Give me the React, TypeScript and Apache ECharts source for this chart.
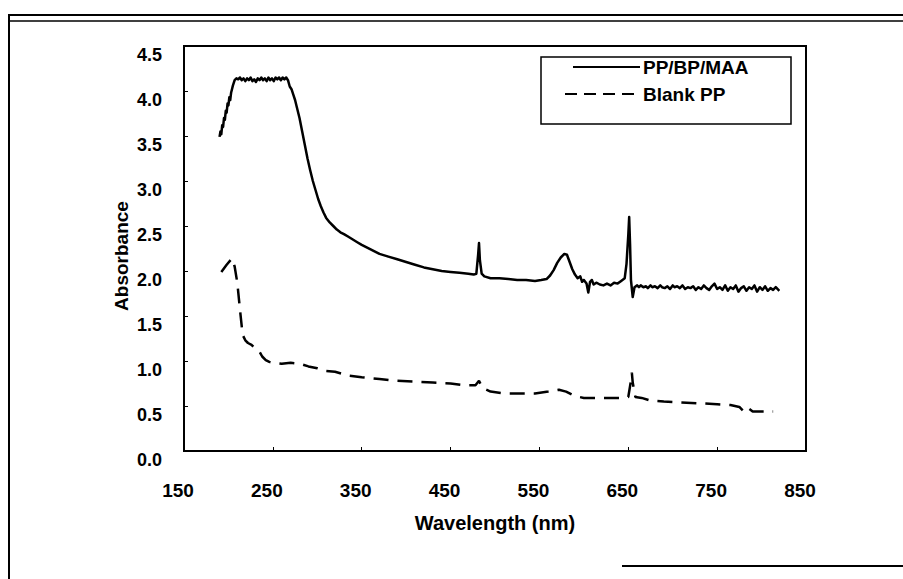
import React, { useEffect, useRef } from "react";
import * as echarts from "echarts";

const xTicks = [150, 250, 350, 450, 550, 650, 750, 850];
const yTicks = [0, 0.5, 1, 1.5, 2, 2.5, 3, 3.5, 4, 4.5];

const seriesNames = ["PP/BP/MAA", "Blank PP"];
const xTitle = "Wavelength (nm)";
const yTitle = "Absorbance";

const mainWavelength = [
  190, 191, 192, 193, 194, 195, 196, 197, 198, 199, 200, 201, 202, 203, 204, 205, 207, 209, 211, 213,
  215, 217, 219, 221, 223, 225, 227, 229, 231, 233, 235, 237, 239, 241, 243, 245, 247, 249, 251, 253,
  255, 257, 259, 261, 263, 265, 267, 269, 271, 273, 275, 277, 280, 283, 286, 289, 292, 295, 298, 301,
  304, 307, 310, 314, 318, 322, 326, 330, 335, 340, 345, 350, 360, 370, 380, 390, 400, 410, 420, 430,
  440, 450, 460, 470, 476, 479, 481, 482, 483, 485, 488, 495, 505, 515, 525, 535, 545, 552, 558, 562,
  566, 570, 574, 578, 581, 584, 587, 590, 593, 596, 598, 600, 603, 605, 607, 609, 611, 614, 618, 622,
  626, 630, 634, 638, 642, 646, 648, 650, 651, 652, 653, 655, 657, 660, 662, 664, 667, 670, 672, 675,
  677, 680, 683, 686, 688, 691, 694, 697, 700, 702, 705, 708, 711, 714, 717, 720, 723, 726, 729, 732,
  735, 738, 741, 744, 747, 750, 753, 756, 759, 762, 765, 768, 771, 774, 777, 780, 783, 786, 789, 792,
  795, 798, 801, 804, 807, 810, 813, 816, 820,
];
const mainAbsorbance = [
  3.49, 3.55, 3.52, 3.62, 3.6, 3.7, 3.68, 3.78, 3.76, 3.86, 3.84, 3.93, 3.9, 3.98, 4.02, 4.06, 4.12, 4.14, 4.13, 4.15,
  4.12, 4.14, 4.11, 4.14, 4.12, 4.15, 4.11, 4.13, 4.1, 4.14, 4.12, 4.15, 4.12, 4.14, 4.11, 4.15, 4.12, 4.14, 4.11, 4.15,
  4.13, 4.15, 4.12, 4.15, 4.13, 4.15, 4.12, 4.05, 4.02, 3.96, 3.9, 3.82, 3.7, 3.55, 3.4, 3.25, 3.12, 3.0, 2.9, 2.8,
  2.72, 2.65, 2.59, 2.54, 2.5, 2.46, 2.43, 2.41, 2.38, 2.35, 2.32, 2.29, 2.24, 2.19, 2.16, 2.13, 2.1, 2.07, 2.04, 2.02,
  2.0, 1.99, 1.98, 1.97, 1.96, 1.97, 2.18, 2.31, 2.12, 1.97, 1.94, 1.92, 1.92, 1.91, 1.9, 1.9, 1.89, 1.9, 1.91, 1.95,
  2.01, 2.09, 2.15, 2.19, 2.18, 2.1, 2.02, 1.96, 1.92, 1.94, 1.88, 1.9, 1.86, 1.76, 1.88, 1.9, 1.85, 1.87, 1.85, 1.84,
  1.86, 1.84, 1.87, 1.86, 1.89, 1.92, 2.08, 2.4, 2.6, 2.3, 1.9, 1.71, 1.82, 1.84, 1.82, 1.84, 1.82, 1.83, 1.81, 1.84,
  1.82, 1.83, 1.81, 1.84, 1.82, 1.81, 1.83, 1.8, 1.84, 1.82, 1.83, 1.81, 1.84, 1.8, 1.82, 1.81, 1.83, 1.79, 1.82, 1.8,
  1.84, 1.81, 1.79, 1.83, 1.86, 1.8, 1.82, 1.79, 1.84, 1.78, 1.82, 1.8, 1.84, 1.77, 1.81, 1.83, 1.78, 1.82, 1.8, 1.84,
  1.77, 1.82, 1.79, 1.83, 1.78, 1.81, 1.79, 1.82, 1.78,
];

const blankWavelength = [
  192, 198, 204, 207, 210, 213, 216, 219, 222, 226, 230, 234, 238, 242, 246, 250, 260, 270, 280, 290,
  300, 310, 320, 334, 350, 370, 390, 410, 430, 450, 465, 478, 482, 486, 495, 510, 530, 545, 560, 572,
  580, 590, 600, 620, 640, 650, 653, 654, 655, 658, 665, 675, 690, 710, 730, 750, 765, 775, 779, 783,
  790, 800, 813,
];
const blankAbsorbance = [
  1.99, 2.07, 2.14, 2.05, 1.87, 1.57, 1.29, 1.23, 1.2, 1.18, 1.14, 1.12, 1.05, 1.01, 0.99, 0.98, 0.97, 0.98, 0.97, 0.94,
  0.92, 0.89, 0.88, 0.84, 0.82, 0.8, 0.78, 0.77, 0.76, 0.75, 0.73, 0.73, 0.78, 0.7, 0.66, 0.64, 0.64, 0.64, 0.66, 0.68,
  0.66, 0.61, 0.59, 0.59, 0.59, 0.6, 0.78, 0.87, 0.76, 0.6, 0.59, 0.56, 0.55, 0.54, 0.53, 0.52, 0.51, 0.49, 0.45, 0.49,
  0.44, 0.44, 0.44,
];

const FONT = "'Liberation Sans', Arial, sans-serif";

export default function App() {
  const ref = useRef<HTMLDivElement>(null);
  useEffect(() => {
    if (!ref.current) return;
    const chart = echarts.init(ref.current, null, { renderer: "svg" });
    const mainData = mainWavelength.map((w, i) => [w, mainAbsorbance[i]]);
    const blankData = blankWavelength.map((w, i) => [w, blankAbsorbance[i]]);
    chart.setOption({
      animation: false,
      backgroundColor: "#ffffff",
      grid: {
        left: 184,
        top: 46,
        right: 97,
        bottom: 128,
        show: true,
        borderColor: "#000",
        borderWidth: 2,
        backgroundColor: "transparent",
      },
      xAxis: {
        type: "value",
        min: xTicks[0],
        max: xTicks[xTicks.length - 1],
        interval: 100,
        name: xTitle,
        nameLocation: "middle",
        nameGap: 62,
        nameTextStyle: { fontFamily: FONT, fontWeight: "bold", fontSize: 20, color: "#000" },
        axisLine: { show: true, lineStyle: { color: "#000", width: 2 } },
        axisTick: { show: true, inside: true, length: 4, lineStyle: { color: "#000", width: 1 } },
        splitLine: { show: false },
        axisLabel: {
          margin: 30,
          fontFamily: FONT,
          fontWeight: "bold",
          fontSize: 19,
          color: "#000",
          padding: [0, 12, 0, 0],
        },
      },
      yAxis: {
        type: "value",
        min: yTicks[0],
        max: yTicks[yTicks.length - 1],
        interval: 0.5,
        axisLine: { show: true, lineStyle: { color: "#000", width: 2 } },
        axisTick: { show: true, inside: true, length: 4, lineStyle: { color: "#000", width: 1 } },
        splitLine: { show: false },
        axisLabel: {
          margin: 22,
          fontFamily: FONT,
          fontWeight: "bold",
          fontSize: 18,
          color: "#000",
          verticalAlign: "top",
          formatter: (v: number) => v.toFixed(1),
        },
      },
      series: [
        {
          name: seriesNames[0],
          type: "line",
          data: mainData,
          showSymbol: false,
          symbol: "none",
          lineStyle: { color: "#000", width: 2.5, join: "round" },
          z: 3,
        },
        {
          name: seriesNames[1],
          type: "line",
          data: blankData,
          showSymbol: false,
          symbol: "none",
          lineStyle: { color: "#000", width: 2.5, type: [15, 9] },
          z: 3,
        },
      ],
      graphic: [
        // outer frame (scan border)
        { type: "line", shape: { x1: 8, y1: 15, x2: 903, y2: 15 }, style: { stroke: "#000", lineWidth: 2 } },
        { type: "line", shape: { x1: 8, y1: 21, x2: 903, y2: 21 }, style: { stroke: "#000", lineWidth: 1.5 } },
        { type: "line", shape: { x1: 9, y1: 15, x2: 9, y2: 579 }, style: { stroke: "#000", lineWidth: 2 } },
        { type: "line", shape: { x1: 622, y1: 566, x2: 903, y2: 566 }, style: { stroke: "#000", lineWidth: 2 } },
        // y axis title
        {
          type: "text",
          x: 121,
          y: 256,
          rotation: Math.PI / 2,
          style: {
            text: yTitle,
            fontFamily: FONT,
            fontWeight: "bold",
            fontSize: 19,
            fill: "#000",
            align: "center",
            verticalAlign: "middle",
          },
        },
        // legend
        {
          type: "rect",
          shape: { x: 541, y: 57, width: 250, height: 67 },
          style: { fill: "#fff", stroke: "#000", lineWidth: 1.5 },
          z: 10,
        },
        {
          type: "line",
          shape: { x1: 573, y1: 67, x2: 640, y2: 67 },
          style: { stroke: "#000", lineWidth: 2 },
          z: 11,
        },
        {
          type: "text",
          x: 643,
          y: 67,
          style: {
            text: seriesNames[0],
            fontFamily: FONT,
            fontWeight: "bold",
            fontSize: 19,
            fill: "#000",
            verticalAlign: "middle",
          },
          z: 11,
        },
        {
          type: "line",
          shape: { x1: 565, y1: 94, x2: 640, y2: 94 },
          style: { stroke: "#000", lineWidth: 2, lineDash: [12, 7] },
          z: 11,
        },
        {
          type: "text",
          x: 643,
          y: 94,
          style: {
            text: seriesNames[1],
            fontFamily: FONT,
            fontWeight: "bold",
            fontSize: 19,
            fill: "#000",
            verticalAlign: "middle",
          },
          z: 11,
        },
      ],
    });
    return () => chart.dispose();
  }, []);
  return (
    <div
      ref={ref}
      style={{ position: "fixed", left: 0, top: 0, width: 903, height: 579, background: "#fff" }}
    />
  );
}
